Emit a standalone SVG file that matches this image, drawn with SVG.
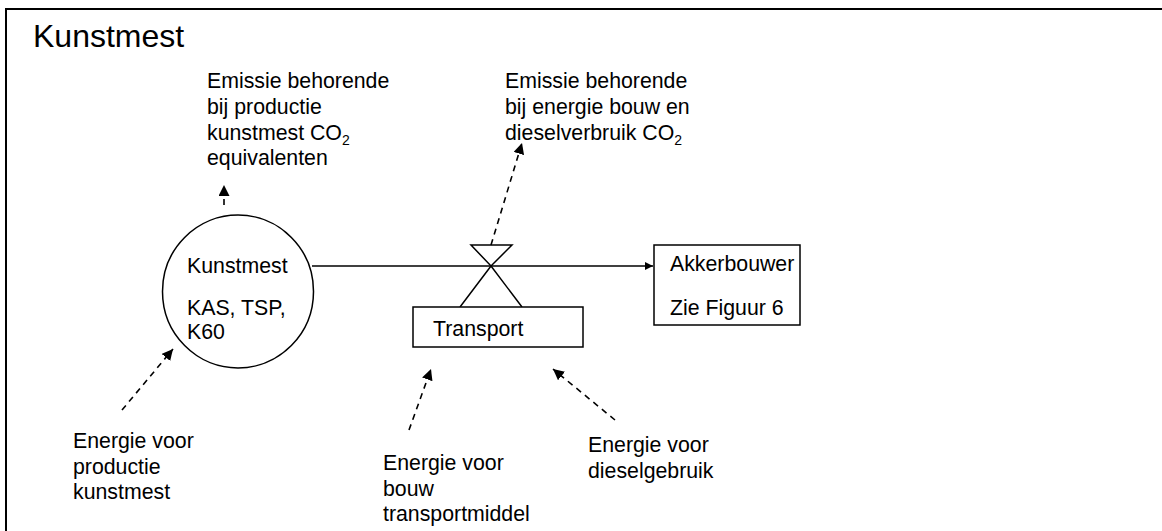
<svg xmlns="http://www.w3.org/2000/svg" width="1162" height="531" viewBox="0 0 1162 531">
<style>
text{font-family:"Liberation Sans",Arial,sans-serif;font-size:21.3px;fill:#000}
.title{font-size:32px}
.sub{font-size:14px}
.shape{fill:#fff;stroke:#000;stroke-width:1.5}
.line{fill:none;stroke:#000;stroke-width:1.5}
.dash{fill:none;stroke:#000;stroke-width:1.6;stroke-dasharray:6 5}
</style>
<defs>
<marker id="ah" viewBox="0 0 10 10" refX="10" refY="5" markerWidth="8" markerHeight="8" markerUnits="userSpaceOnUse" orient="auto">
<path d="M0,0 L10,5 L0,10 z" fill="#000"/>
</marker>
<marker id="ahd" viewBox="0 0 10 10" refX="10" refY="5" markerWidth="11" markerHeight="11" markerUnits="userSpaceOnUse" orient="auto">
<path d="M0,0 L10,5 L0,10 z" fill="#000"/>
</marker>
</defs>
<rect width="1162" height="531" fill="#fff"/>
<g id="frame">
<path d="M6,540 L6,9 L1170,9" fill="none" stroke="#000" stroke-width="2"/>
<text class="title" x="33" y="47">Kunstmest</text>
</g>
<g id="connectors">
<line class="line" x1="312" y1="266" x2="653" y2="266" marker-end="url(#ah)"/>
<line class="dash" x1="224" y1="205" x2="224" y2="185" marker-end="url(#ahd)"/>
<line class="dash" x1="491" y1="245" x2="522" y2="143" marker-end="url(#ahd)"/>
<line class="dash" x1="122" y1="410" x2="173" y2="349" marker-end="url(#ahd)"/>
<line class="dash" x1="409" y1="430" x2="431" y2="369" marker-end="url(#ahd)"/>
<line class="dash" x1="615" y1="420" x2="553" y2="369" marker-end="url(#ahd)"/>
</g>
<g id="node-kunstmest">
<ellipse class="shape" cx="238" cy="291.5" rx="75.5" ry="76.5"/>
<text x="187" y="273">Kunstmest</text>
<text x="187" y="315">KAS, TSP,</text>
<text x="187" y="339">K60</text>
</g>
<g id="node-valve">
<path class="line" d="M471,245 L512,245 L491,266 Z M491,266 L460,307 M491,266 L522,307"/>
</g>
<g id="node-transport">
<rect class="shape" x="413" y="307" width="170" height="40"/>
<text x="433" y="336">Transport</text>
</g>
<g id="node-akkerbouwer">
<rect class="shape" x="654" y="245" width="146" height="80"/>
<text x="670" y="271">Akkerbouwer</text>
<text x="670" y="315">Zie Figuur 6</text>
</g>
<g id="label-emissie-productie">
<text x="207" y="88">Emissie behorende</text>
<text x="207" y="114">bij productie</text>
<text x="207" y="140">kunstmest CO<tspan class="sub" dy="5">2</tspan></text>
<text x="207" y="165">equivalenten</text>
</g>
<g id="label-emissie-transport">
<text x="505" y="88">Emissie behorende</text>
<text x="505" y="114">bij energie bouw en</text>
<text x="505" y="140">dieselverbruik CO<tspan class="sub" dy="5">2</tspan></text>
</g>
<g id="label-energie-productie">
<text x="73" y="448">Energie voor</text>
<text x="73" y="474">productie</text>
<text x="73" y="499">kunstmest</text>
</g>
<g id="label-energie-bouw">
<text x="383" y="470">Energie voor</text>
<text x="383" y="496">bouw</text>
<text x="383" y="521">transportmiddel</text>
</g>
<g id="label-energie-diesel">
<text x="588" y="452">Energie voor</text>
<text x="588" y="478">dieselgebruik</text>
</g>
</svg>
